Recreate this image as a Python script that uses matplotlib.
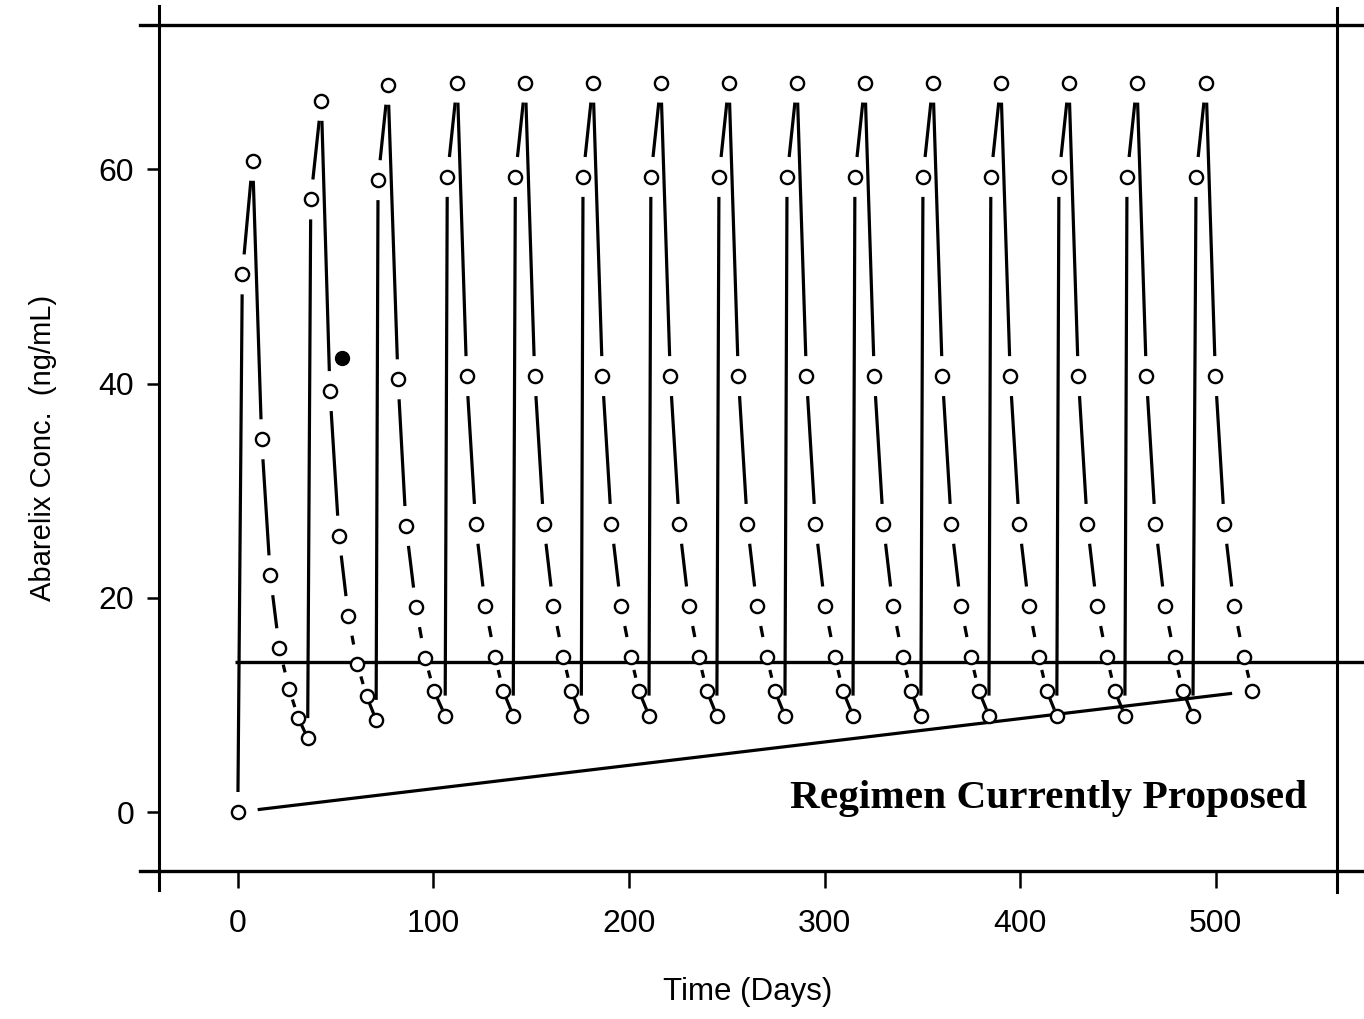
import numpy as np
import matplotlib
matplotlib.use("Agg")
import matplotlib.pyplot as plt
from matplotlib.collections import LineCollection

# first three injections
cycle1_days = [0, 2.3, 7.6, 12.2, 16.6, 21.2, 26.2, 30.9, 35.7]
cycle1_conc = [0, 50.2, 60.8, 34.8, 22.1, 15.3, 11.5, 8.8, 6.9]
cycle2_days = [37.3, 42.7, 47.1, 51.7, 56.5, 61.1, 65.9, 70.7]
cycle2_conc = [57.2, 66.4, 39.3, 25.8, 18.3, 13.8, 10.8, 8.6]
cycle3_days = [71.7, 76.8, 81.9, 86.0, 91.1, 95.7, 100.3, 106.0]
cycle3_conc = [59.0, 67.9, 40.4, 26.7, 19.1, 14.4, 11.3, 9.0]

# later injections show the same profile
steady_offsets = [0, 5.1, 9.9, 14.5, 19.4, 24.4, 28.6, 33.7]
steady_conc = [59.3, 68.1, 40.7, 26.9, 19.2, 14.5, 11.3, 9.0]
steady_starts = [107.1, 141.9, 176.5, 211.2, 246.0, 280.8, 315.5,
                 350.3, 385.0, 419.8, 454.6, 489.9]
last_cycle_points = 7

threshold = 14.0
blob_day, blob_conc = [53.2], [42.4]

x_ticks = [0, 100, 200, 300, 400, 500]
y_ticks = [0, 20, 40, 60]
label_text = "Regimen Currently Proposed"

# assemble the series
days = list(cycle1_days) + list(cycle2_days) + list(cycle3_days)
conc = list(cycle1_conc) + list(cycle2_conc) + list(cycle3_conc)
for i, start in enumerate(steady_starts):
    n = last_cycle_points if i == len(steady_starts) - 1 else len(steady_offsets)
    days += [start + o for o in steady_offsets[:n]]
    conc += steady_conc[:n]

plt.rcParams["font.family"] = ["Liberation Sans", "DejaVu Sans"]

fig = plt.figure(figsize=(13.64, 10.19), dpi=100)
ax = fig.add_axes([159 / 1364, 1 - 871 / 1019, (1337 - 159) / 1364, (871 - 25) / 1019])
x0, xs = 237.8, 1.956   # pixel of day 0, pixels per day
y0, ys = 812.0, 10.71   # pixel of conc 0, pixels per unit
ax.set_xlim((159 - x0) / xs, (1337 - x0) / xs)
ax.set_ylim((y0 - 871) / ys, (y0 - 25) / ys)
for s in ax.spines.values():
    s.set_visible(False)


def gapped_segments(ax, xv, yv, gap=20.0, radius=6.5):
    # S-style "b" plot: line segments that stop short of each point
    pts = ax.transData.transform(np.column_stack([xv, yv]))
    inv = ax.transData.inverted()
    segs = []
    for p, q in zip(pts[:-1], pts[1:]):
        d = q - p
        length = np.hypot(*d)
        u = d / length
        if length > 2 * gap + 8:
            a, b = gap, length - gap
        elif length > 30:
            a, b = length / 2 - 4, length / 2 + 4
        else:
            a, b = radius, length - radius
        segs.append(inv.transform([p + u * a, p + u * b]))
    return segs


path_x = days + [days[0]]
path_y = conc + [conc[0]]
lc = LineCollection(gapped_segments(ax, path_x, path_y), colors="black",
                    linewidths=2.3, capstyle="butt")
ax.add_collection(lc)

ax.plot(days, conc, linestyle="none", marker="o", markersize=9.5,
        markerfacecolor="white", markeredgecolor="black", markeredgewidth=1.7, zorder=3)
ax.plot(blob_day, blob_conc, linestyle="none", marker="o", markersize=10,
        color="black", zorder=3)

# threshold line runs past the right frame
xl = ax.get_xlim()
right_edge = (1364 - x0) / xs
ax.plot([-1.5, right_edge], [threshold, threshold], color="black", lw=2.4,
        clip_on=False, solid_capstyle="butt")

# frame lines that overshoot the plot box
yl = ax.get_ylim()
left_out = (140 - x0) / xs
ax.plot([left_out, right_edge], [yl[1], yl[1]], color="black", lw=2.4, clip_on=False)
ax.plot([left_out, right_edge], [yl[0], yl[0]], color="black", lw=2.4, clip_on=False)
ax.plot([xl[0], xl[0]], [(y0 - 890) / ys, (y0 - 6) / ys], color="black", lw=2.2, clip_on=False)
ax.plot([xl[1], xl[1]], [(y0 - 892) / ys, (y0 - 8) / ys], color="black", lw=2.2, clip_on=False)

ax.set_xticks(x_ticks)
ax.set_yticks(y_ticks)
ax.tick_params(axis="x", direction="out", length=12, width=1.8, pad=15, labelsize=23)
ax.tick_params(axis="y", direction="out", length=9, width=1.8, pad=9, labelsize=23)

ax.set_xlabel("Time (Days)", fontsize=22.5, labelpad=28)
ax.set_ylabel("Abarelix Conc.  (ng/mL)", fontsize=21, labelpad=30)

ax.text(282.3, 0.4, label_text, family=["Liberation Serif", "DejaVu Serif"],
        fontweight="bold", fontsize=29.7, ha="left", va="baseline")

fig.savefig("out.png", dpi=100, facecolor="white")
